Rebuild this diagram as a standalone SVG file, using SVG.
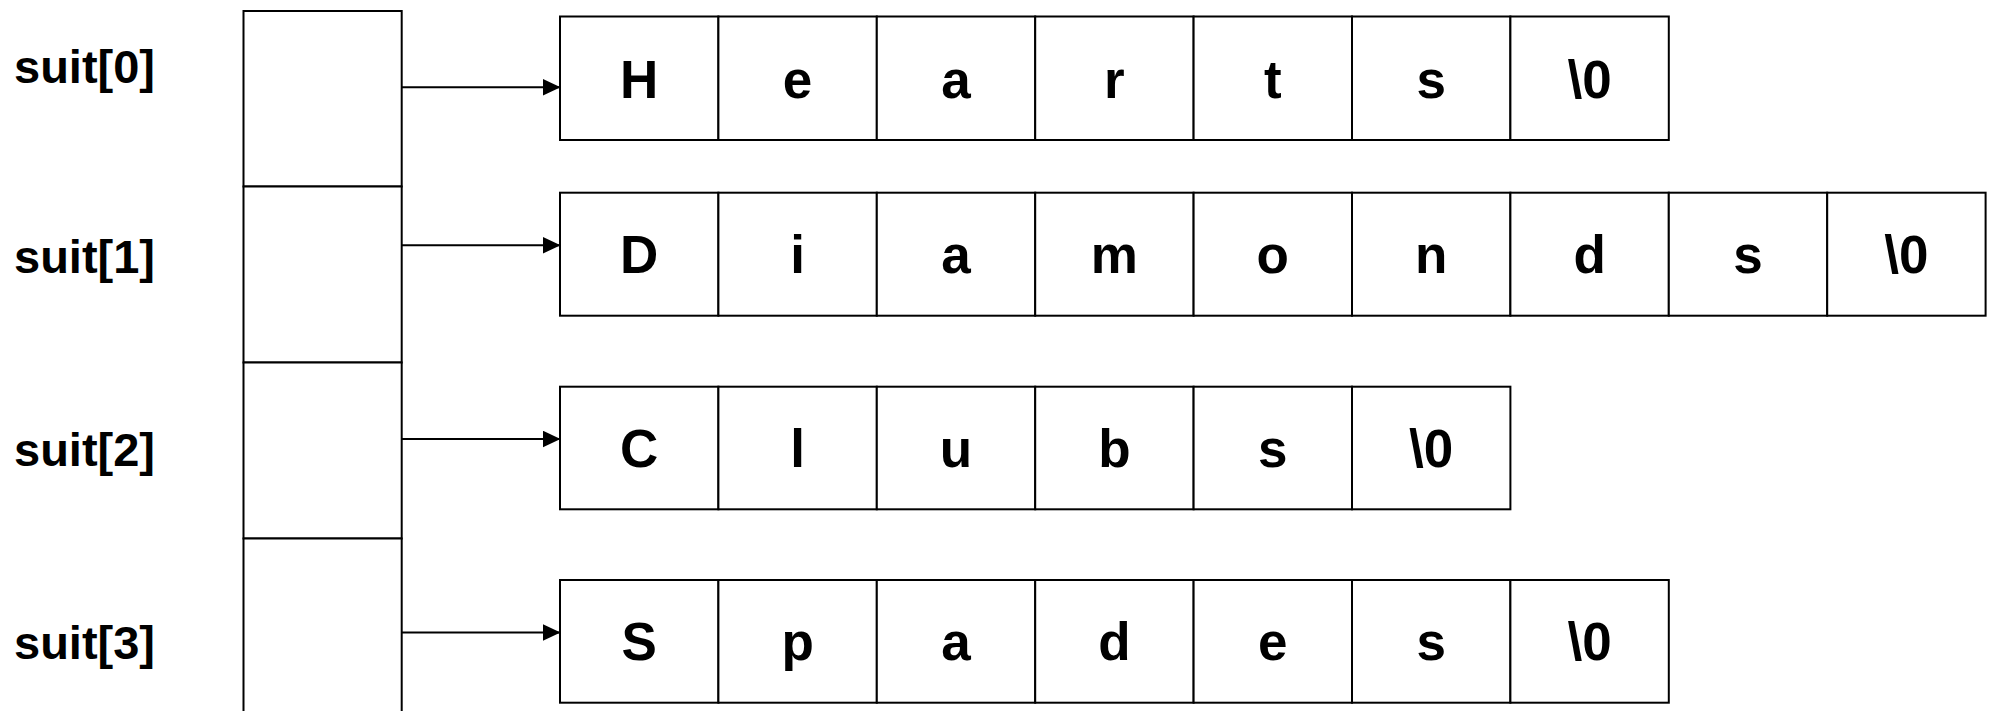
<svg xmlns="http://www.w3.org/2000/svg" width="1990" height="711" viewBox="0 0 1990 711">
<style>
.cell{fill:#fff;stroke:#000;stroke-width:2}
.lbl{font-family:"Liberation Sans",Arial,sans-serif;font-weight:bold;font-size:47px;fill:#000}
.ch{font-family:"Liberation Sans",Arial,sans-serif;font-weight:bold;font-size:53px;fill:#000;text-anchor:middle}
.conn{stroke:#000;stroke-width:2;fill:none}
</style>
<defs>
<marker id="arr" markerWidth="18" markerHeight="17" refX="17.5" refY="8.5" orient="auto" markerUnits="userSpaceOnUse">
<path d="M0,0 L18,8.5 L0,17 Z" fill="#000"/>
</marker>
</defs>
<rect width="1990" height="711" fill="#fff"/>
<g id="labels">
<text class="lbl" x="14" y="83">suit[0]</text>
<text class="lbl" x="14" y="273">suit[1]</text>
<text class="lbl" x="14" y="466">suit[2]</text>
<text class="lbl" x="14" y="659">suit[3]</text>
</g>
<g id="pointers">
<rect class="cell" x="243.5" y="11" width="158.2" height="175.5"/>
<rect class="cell" x="243.5" y="186.5" width="158.2" height="176"/>
<rect class="cell" x="243.5" y="362.5" width="158.2" height="176"/>
<rect class="cell" x="243.5" y="538.5" width="158.2" height="176"/>
</g>
<g id="connectors">
<line class="conn" x1="401.7" y1="87.3" x2="560" y2="87.3" marker-end="url(#arr)"/>
<line class="conn" x1="401.7" y1="245.3" x2="560" y2="245.3" marker-end="url(#arr)"/>
<line class="conn" x1="401.7" y1="439" x2="560" y2="439" marker-end="url(#arr)"/>
<line class="conn" x1="401.7" y1="632.5" x2="560" y2="632.5" marker-end="url(#arr)"/>
</g>
<g id="hearts">
<rect class="cell" x="560" y="16.5" width="158.4" height="123.5"/>
<rect class="cell" x="718.4" y="16.5" width="158.4" height="123.5"/>
<rect class="cell" x="876.8" y="16.5" width="158.4" height="123.5"/>
<rect class="cell" x="1035.2" y="16.5" width="158.4" height="123.5"/>
<rect class="cell" x="1193.6" y="16.5" width="158.4" height="123.5"/>
<rect class="cell" x="1352" y="16.5" width="158.4" height="123.5"/>
<rect class="cell" x="1510.4" y="16.5" width="158.4" height="123.5"/>
<text class="ch" x="639.2" y="97.5">H</text>
<text class="ch" x="797.6" y="97.5">e</text>
<text class="ch" x="956" y="97.5">a</text>
<text class="ch" x="1114.4" y="97.5">r</text>
<text class="ch" x="1272.8" y="97.5">t</text>
<text class="ch" x="1431.2" y="97.5">s</text>
<text class="ch" x="1589.6" y="97.5">\0</text>
</g>
<g id="diamonds">
<rect class="cell" x="560" y="192.7" width="158.4" height="123"/>
<rect class="cell" x="718.4" y="192.7" width="158.4" height="123"/>
<rect class="cell" x="876.8" y="192.7" width="158.4" height="123"/>
<rect class="cell" x="1035.2" y="192.7" width="158.4" height="123"/>
<rect class="cell" x="1193.6" y="192.7" width="158.4" height="123"/>
<rect class="cell" x="1352" y="192.7" width="158.4" height="123"/>
<rect class="cell" x="1510.4" y="192.7" width="158.4" height="123"/>
<rect class="cell" x="1668.8" y="192.7" width="158.4" height="123"/>
<rect class="cell" x="1827.2" y="192.7" width="158.4" height="123"/>
<text class="ch" x="639.2" y="273.2">D</text>
<text class="ch" x="797.6" y="273.2">i</text>
<text class="ch" x="956" y="273.2">a</text>
<text class="ch" x="1114.4" y="273.2">m</text>
<text class="ch" x="1272.8" y="273.2">o</text>
<text class="ch" x="1431.2" y="273.2">n</text>
<text class="ch" x="1589.6" y="273.2">d</text>
<text class="ch" x="1748" y="273.2">s</text>
<text class="ch" x="1906.4" y="273.2">\0</text>
</g>
<g id="clubs">
<rect class="cell" x="560" y="386.7" width="158.4" height="122.6"/>
<rect class="cell" x="718.4" y="386.7" width="158.4" height="122.6"/>
<rect class="cell" x="876.8" y="386.7" width="158.4" height="122.6"/>
<rect class="cell" x="1035.2" y="386.7" width="158.4" height="122.6"/>
<rect class="cell" x="1193.6" y="386.7" width="158.4" height="122.6"/>
<rect class="cell" x="1352" y="386.7" width="158.4" height="122.6"/>
<text class="ch" x="639.2" y="467">C</text>
<text class="ch" x="797.6" y="467">l</text>
<text class="ch" x="956" y="467">u</text>
<text class="ch" x="1114.4" y="467">b</text>
<text class="ch" x="1272.8" y="467">s</text>
<text class="ch" x="1431.2" y="467">\0</text>
</g>
<g id="spades">
<rect class="cell" x="560" y="580" width="158.4" height="122.7"/>
<rect class="cell" x="718.4" y="580" width="158.4" height="122.7"/>
<rect class="cell" x="876.8" y="580" width="158.4" height="122.7"/>
<rect class="cell" x="1035.2" y="580" width="158.4" height="122.7"/>
<rect class="cell" x="1193.6" y="580" width="158.4" height="122.7"/>
<rect class="cell" x="1352" y="580" width="158.4" height="122.7"/>
<rect class="cell" x="1510.4" y="580" width="158.4" height="122.7"/>
<text class="ch" x="639.2" y="660.3">S</text>
<text class="ch" x="797.6" y="660.3">p</text>
<text class="ch" x="956" y="660.3">a</text>
<text class="ch" x="1114.4" y="660.3">d</text>
<text class="ch" x="1272.8" y="660.3">e</text>
<text class="ch" x="1431.2" y="660.3">s</text>
<text class="ch" x="1589.6" y="660.3">\0</text>
</g>
</svg>
